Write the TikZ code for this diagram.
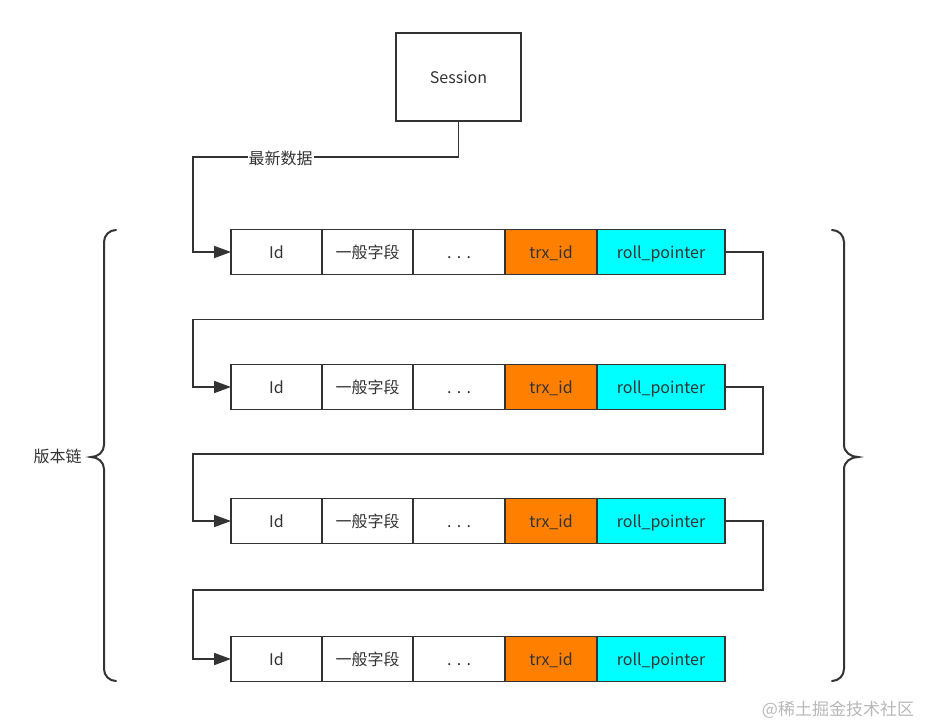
\documentclass[tikz,border=0pt]{standalone}
\usepackage{fontspec}
\setmainfont{Noto Sans CJK SC}
\usetikzlibrary{arrows.meta,positioning,calc}
\definecolor{linec}{HTML}{333333}
\definecolor{trxc}{HTML}{FF8000}
\definecolor{rollc}{HTML}{00FFFF}
\tikzset{
  cell/.style={draw=linec,line width=1.6pt,minimum height=45,inner sep=0pt,outer sep=0pt,
    text height=14pt,text depth=2pt,text=linec,font=\fontsize{16}{19}\selectfont},
  link/.style={draw=linec,line width=1.8pt,-{Triangle[length=17pt,width=12pt]}},
  brace/.style={draw=linec,line width=2pt,line cap=round}
}
\begin{document}
\begin{tikzpicture}[x=1pt,y=-1pt]
  \useasboundingbox[fill=white] (0,0) rectangle (925,726);
  % session box
  \node[cell,minimum width=125,minimum height=88] (session) at (458.5,77) {Session};
  % records of the version chain
  \foreach \r/\y in {1/252,2/387,3/521,4/659}{
    \node[cell,minimum width=91] (id\r) at (276.5,\y) {Id};
    \node[cell,minimum width=91,right=0pt of id\r] (gen\r) {一般字段};
    \node[cell,minimum width=92,right=0pt of gen\r] (dots\r) {.\,\,.\,\,.};
    \node[cell,minimum width=92,fill=trxc,right=0pt of dots\r] (trx\r) {trx\_id};
    \node[cell,minimum width=128,fill=rollc,right=0pt of trx\r] (roll\r) {roll\_pointer};
  }
  % newest data
  \draw[link] (session.south) -- ++(0,36) -| ($(id1.west)+(-38,0)$) -- (id1.west);
  \node[fill=white,inner sep=1pt,text=linec,font=\fontsize{16}{19}\selectfont] (newest) at (280.5,158) {最新数据};
  % roll pointers
  \foreach \r/\n in {1/2,2/3,3/4}
    \draw[link] (roll\r.east) -- ++(38,0) |- ($(roll\r.south)!0.5!(id\n.north)$)
      -| ($(id\n.west)+(-38,0)$) -- (id\n.west);
  % braces
  \draw[brace] (116,230) to[out=180,in=90] (104,242) -- (104,445) to[out=270,in=0] (91,457)
    to[out=0,in=90] (104,469) -- (104,669) to[out=270,in=180] (116,681);
  \draw[brace] (832,230) to[out=0,in=90] (844,242) -- (844,445) to[out=270,in=180] (858,457)
    to[out=180,in=90] (844,469) -- (844,669) to[out=270,in=0] (832,681);
  \node[text=linec,font=\fontsize{16}{19}\selectfont] (chain) at (57.5,456) {版本链};
  \node[text=black!28,font=\fontsize{17}{20}\selectfont] (mark) at (838,710) {@稀土掘金技术社区};
\end{tikzpicture}
\end{document}
